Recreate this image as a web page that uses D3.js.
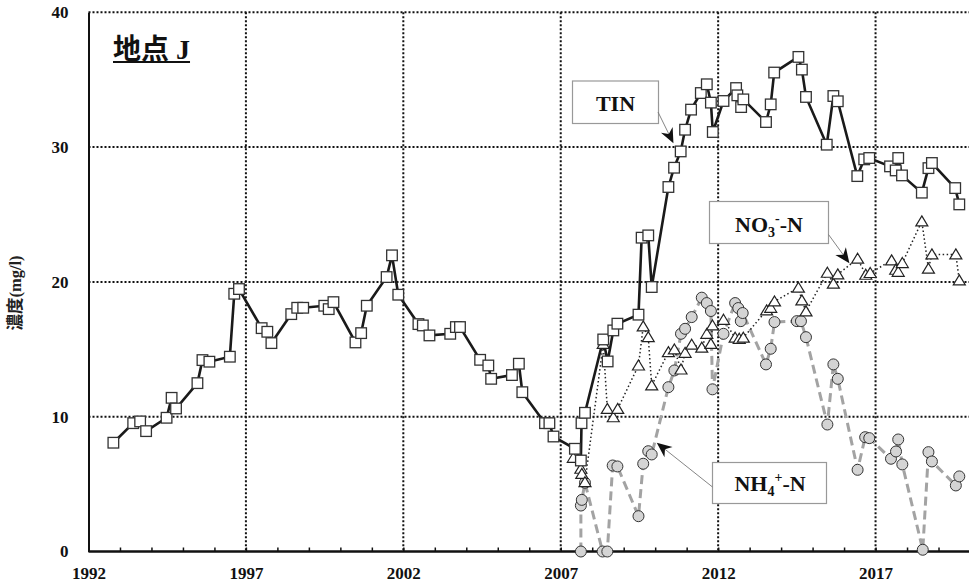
<!DOCTYPE html>
<html><head><meta charset="utf-8">
<script src="https://cdn.jsdelivr.net/npm/d3@7"></script>
<style>body{margin:0;background:#fff}</style>
</head><body>
<svg id="c" width="969" height="583"></svg>
<script>
// ---- data (decimal year, mg/l) ----
const tinDates = [1992.79,1993.42,1993.64,1993.83,1994.48,1994.64,1994.78,1995.46,1995.62,1995.84,1996.49,1996.63,1996.78,
  1997.50,1997.68,1997.81,1998.44,1998.63,1998.82,1999.49,1999.63,1999.78,2000.48,2000.66,2000.84,2001.47,2001.64,2001.84,
  2002.48,2002.62,2002.83,2003.49,2003.67,2003.80,2004.44,2004.70,2004.79,2005.45,2005.67,2005.78,2006.50,2006.64,2006.77,
  2007.45,2007.64,2007.66,2007.77,2008.35,2008.49,2008.67,2008.80,2009.47,2009.57,2009.78,2009.89,2010.42,2010.60,2010.81,
  2010.95,2011.14,2011.45,2011.64,2011.77,2011.83,2012.17,2012.57,2012.61,2012.73,2012.80,2013.52,2013.67,2013.78,2014.55,
  2014.66,2014.79,2015.45,2015.66,2015.80,2016.42,2016.64,2016.80,2017.46,2017.64,2017.72,2017.84,2018.47,2018.68,2018.79,
  2019.53,2019.66];
const tinValues = [8.07,9.52,9.65,8.93,9.92,11.4,10.61,12.49,14.2,14.08,14.45,19.12,19.47,
  16.57,16.30,15.46,17.61,18.08,18.08,18.23,17.98,18.50,15.51,16.20,18.23,20.36,21.97,19.05,
  16.87,16.77,16.03,16.15,16.65,16.65,14.22,13.80,12.81,13.09,13.93,11.82,9.52,9.52,8.53,
  7.62,6.75,9.52,10.29,15.73,14.1,16.4,16.9,17.57,23.28,23.45,19.62,27.04,28.47,29.68,
  31.29,32.78,34.01,34.66,33.30,31.12,33.42,34.38,33.84,32.97,33.54,31.86,33.17,35.53,36.69,
  35.75,33.72,30.18,33.79,33.40,27.85,29.09,29.19,28.57,28.27,29.19,27.90,26.62,28.44,28.82,
  26.96,25.75];

const no3Dates = [2007.40,2007.64,2007.67,2007.77,2008.35,2008.48,2008.67,2008.81,2009.47,2009.62,2009.78,2009.89,
  2010.42,2010.61,2010.82,2010.95,2011.16,2011.48,2011.64,2011.77,2011.82,2012.17,2012.54,2012.67,2012.80,
  2013.54,2013.67,2013.79,2014.55,2014.66,2014.79,2015.47,2015.66,2015.80,2016.43,2016.69,2016.83,
  2017.51,2017.64,2017.72,2017.85,2018.47,2018.68,2018.79,2019.55,2019.66];
const no3Values = [6.95,6.14,5.76,5.14,15.4,10.58,9.96,10.58,13.80,16.7,15.9,12.32,
  14.79,14.99,13.5,14.74,15.34,15.12,16.15,15.4,16.77,17.19,15.86,15.78,15.86,
  17.89,18.08,18.55,19.57,18.63,17.81,20.68,19.87,20.56,21.72,20.53,20.66,
  21.60,20.9,20.75,21.40,24.49,20.98,22.04,22.04,20.11];

const nh4Dates = [2007.64,2007.64,2007.67,2007.77,2008.33,2008.48,2008.65,2008.80,2009.47,2009.62,2009.78,2009.89,
  2010.42,2010.61,2010.82,2010.95,2011.16,2011.48,2011.64,2011.77,2011.82,2012.17,2012.54,2012.64,2012.72,2012.78,
  2013.52,2013.67,2013.79,2014.50,2014.63,2014.79,2015.47,2015.66,2015.80,2016.43,2016.67,2016.80,
  2017.49,2017.65,2017.72,2017.85,2018.50,2018.68,2018.79,2019.55,2019.66];
const nh4Values = [0,3.41,3.83,5.1,0,0,6.38,6.31,2.62,6.51,7.44,7.2,
  12.19,13.43,16.15,16.52,17.39,18.83,18.43,17.84,12.03,16.15,18.43,18.06,17.09,17.69,
  13.88,15.04,17.02,17.09,17.09,15.90,9.42,13.88,12.81,6.06,8.48,8.41,
  6.88,7.42,8.31,6.46,0.13,7.37,6.68,4.90,5.57];

const yTicks = [0,10,20,30,40];
const xLabelTicks = [1992,1997,2002,2007,2012,2017];
const titleText = "地点 J";
const yLabelText = "濃度(mg/l)";

// ---- layout ----
const serif = '"Liberation Serif","Times New Roman","Noto Sans CJK JP",serif';
const svg = d3.select('#c');
const x = d3.scaleLinear().domain([1992,2020]).range([88.5,970]);
const y = d3.scaleLinear().domain([0,40]).range([551.5,12.3]);
const X0 = 88.5, X1 = 969, Y0 = 551.5, Y1 = 12.3;

const zip = (d, v) => d.map((t,i) => [t, v[i]]);
const tin = zip(tinDates, tinValues), no3 = zip(no3Dates, no3Values), nh4 = zip(nh4Dates, nh4Values);

// gridlines
const grid = svg.append('g').attr('stroke','#111').attr('stroke-width',2).attr('stroke-dasharray','2,2');
grid.selectAll('line.h').data(yTicks.filter(t=>t>0)).join('line')
  .attr('x1',X0).attr('x2',X1).attr('y1',d=>y(d)).attr('y2',d=>y(d));
grid.selectAll('line.v').data(xLabelTicks.filter(t=>t>1992)).join('line').attr('class','v')
  .attr('x1',d=>x(d)).attr('x2',d=>x(d)).attr('y1',Y1).attr('y2',Y0);

// x axis
const xAxis = d3.axisBottom(x).tickValues(d3.range(1992,2020)).tickSizeInner(-4).tickSizeOuter(0).tickPadding(15)
  .tickFormat(d => xLabelTicks.includes(d) ? String(d) : '');
const gx = svg.append('g').attr('transform',`translate(0,${Y0})`).call(xAxis);
gx.select('.domain').attr('stroke','#111').attr('stroke-width',2.5).attr('d',`M${X0},0H${X1}`);
gx.selectAll('.tick line').attr('stroke','#111').attr('stroke-width',1.5);
gx.selectAll('text').attr('font-family',serif).attr('font-weight','bold').attr('font-size',17).attr('fill','#111');

// y axis
const yAxis = d3.axisLeft(y).tickValues(yTicks).tickSize(0).tickPadding(20).tickFormat(d3.format('d'));
const gy = svg.append('g').attr('transform',`translate(${X0},0)`).call(yAxis);
gy.select('.domain').attr('stroke','#111').attr('stroke-width',2);
gy.selectAll('text').attr('font-family',serif).attr('font-weight','bold').attr('font-size',17).attr('fill','#111');

// y label
svg.append('text').attr('transform','translate(21,293) rotate(-90)').attr('text-anchor','middle')
  .attr('font-family',serif).attr('font-weight','bold').attr('font-size',16.5).attr('fill','#222').text(yLabelText);

// title
const tt = svg.append('text').attr('x',113).attr('y',59).attr('font-family',serif).attr('font-weight','bold')
  .attr('font-size',28).attr('fill','#111').text(titleText);
const tb = tt.node().getBBox();
svg.append('line').attr('x1',tb.x).attr('x2',tb.x+tb.width).attr('y1',62).attr('y2',62).attr('stroke','#111').attr('stroke-width',2);

// series
const line = d3.line().x(d=>x(d[0])).y(d=>y(d[1]));
svg.append('path').datum(nh4).attr('d',line).attr('fill','none').attr('stroke','#a3a3a3').attr('stroke-width',3).attr('stroke-dasharray','9,5');
svg.append('path').datum(no3).attr('d',line).attr('fill','none').attr('stroke','#222').attr('stroke-width',1.5).attr('stroke-dasharray','1.5,2.5');
svg.append('path').datum(tin).attr('d',line).attr('fill','none').attr('stroke','#1a1a1a').attr('stroke-width',2.6);

svg.append('g').selectAll('circle').data(nh4).join('circle')
  .attr('cx',d=>x(d[0])).attr('cy',d=>y(d[1])).attr('r',5.5)
  .attr('fill','#d4d4d4').attr('stroke','#333').attr('stroke-width',1);
svg.append('g').selectAll('path').data(no3).join('path')
  .attr('transform',d=>`translate(${x(d[0])},${y(d[1])})`).attr('d','M0,-5.5L6,4.5L-6,4.5Z')
  .attr('fill','#fff').attr('stroke','#222').attr('stroke-width',1.2);
svg.append('g').selectAll('rect').data(tin).join('rect')
  .attr('x',d=>x(d[0])-5.3).attr('y',d=>y(d[1])-5.3).attr('width',10.6).attr('height',10.6)
  .attr('fill','#fff').attr('stroke','#333').attr('stroke-width',1.3);

// annotations
function arrow(x1,y1,x2,y2){
  const a = Math.atan2(y2-y1,x2-x1), L = 15, W = 6.5;
  svg.append('line').attr('x1',x1).attr('y1',y1).attr('x2',x2-Math.cos(a)*8).attr('y2',y2-Math.sin(a)*8)
    .attr('stroke','#777').attr('stroke-width',0.9);
  const p = (dx,dy)=>[x2+dx*Math.cos(a)-dy*Math.sin(a), y2+dx*Math.sin(a)+dy*Math.cos(a)];
  const pts = [p(0,0),p(-L,W),p(-L*0.7,0),p(-L,-W)];
  svg.append('path').attr('d','M'+pts.map(q=>q.join(',')).join('L')+'Z').attr('fill','#111');
}
function box(x0,y0,x1,y1){
  svg.append('rect').attr('x',x0).attr('y',y0).attr('width',x1-x0).attr('height',y1-y0)
    .attr('fill','#fff').attr('stroke','#999').attr('stroke-width',1.2);
}
// TIN
box(572.5,81,658.5,123.5);
arrow(658,112,x(2010.58),y(30.28));
svg.append('text').attr('x',615.5).attr('y',111).attr('text-anchor','middle').attr('font-family',serif)
  .attr('font-weight','bold').attr('font-size',22).attr('fill','#111').text('TIN');
// NO3
box(709.5,201.5,828.5,243.5);
arrow(828.5,234.5,x(2016.17),y(21.38));
const t2 = svg.append('text').attr('x',769).attr('y',231.5).attr('text-anchor','middle').attr('font-family',serif)
  .attr('font-weight','bold').attr('font-size',22).attr('fill','#111');
t2.append('tspan').text('NO');
t2.append('tspan').attr('font-size',14).attr('dy',5).text('3');
t2.append('tspan').attr('font-size',14).attr('dy',-14).text('-');
t2.append('tspan').attr('dy',9).text('-N');
// NH4
box(712.5,462.5,826.5,503.5);
arrow(712.5,487,x(2010.05),y(8.07));
const t3 = svg.append('text').attr('x',770).attr('y',491).attr('text-anchor','middle').attr('font-family',serif)
  .attr('font-weight','bold').attr('font-size',22).attr('fill','#111');
t3.append('tspan').text('NH');
t3.append('tspan').attr('font-size',14).attr('dy',5).text('4');
t3.append('tspan').attr('font-size',14).attr('dy',-14).text('+');
t3.append('tspan').attr('dy',9).text('-N');
</script>
</body></html>
